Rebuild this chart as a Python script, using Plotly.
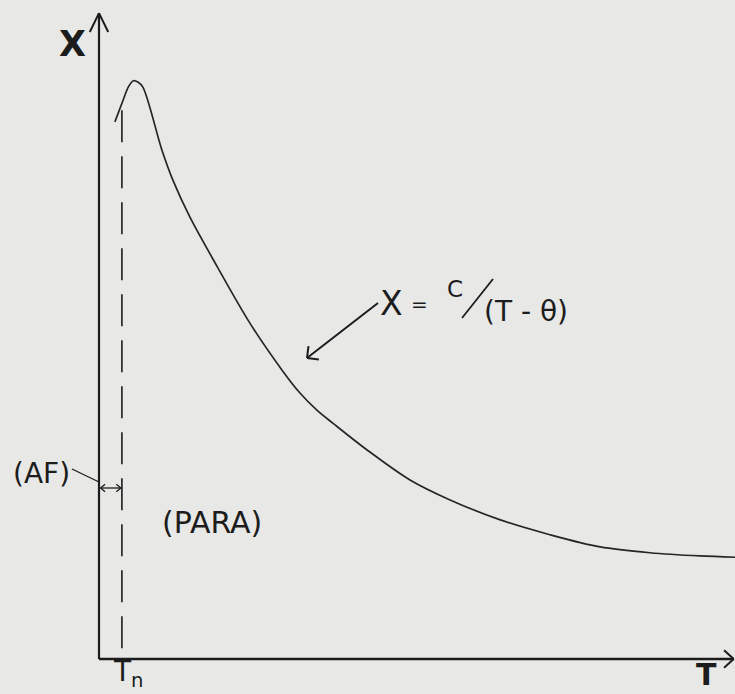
import math
import plotly.graph_objects as go

# Susceptibility of an antiferromagnet versus temperature (arbitrary units)
temperature = [2.5, 3.8, 4.6, 5.4, 6.1, 6.9, 9.9, 11.6, 14.3, 18.6, 23.7, 28.9,
               31.6, 34.3, 36.8, 42.1, 48.9, 55.2, 63.1, 70.9, 78.8, 86.6, 94.5, 100.0]
susceptibility = [83.4, 86.8, 88.8, 89.8, 89.6, 88.8, 79.0, 74.4, 68.6, 60.9, 52.2, 44.7,
                  41.3, 38.6, 36.6, 32.5, 27.8, 24.7, 21.6, 19.3, 17.4, 16.5, 16.0, 15.8]

neel_temperature = 3.6      # T_n
neel_line_top = 85.2        # top of the dashed T_n marker
axis_t_max = 99.8
axis_chi_max = 100.3

# Canvas geometry: axis origin and scale in pixels
W, H = 735, 694
X0PX, Y0PX = 99, 659
SX, SY = 6.36, 6.44
x_range = [-X0PX / SX, (W - X0PX) / SX]
y_range = [(Y0PX - H) / SY, Y0PX / SY]

INK = "#1c1c1c"
PAPER = "#e8e8e7"
FONT = "DejaVu Sans"


def d2p(t, c):
    """data -> pixel"""
    return X0PX + t * SX, Y0PX - c * SY


def pp(xp, yp):
    """pixel -> paper"""
    return xp / W, 1 - yp / H


shapes = []


def seg(p1, p2, width=1.6):
    a = pp(*p1)
    b = pp(*p2)
    shapes.append(dict(type="line", xref="paper", yref="paper",
                       x0=a[0], y0=a[1], x1=b[0], y1=b[1],
                       line=dict(color=INK, width=width)))


def chevron(tip, frm, length, half_angle, width=1.6):
    dx, dy = tip[0] - frm[0], tip[1] - frm[1]
    n = math.hypot(dx, dy)
    vx, vy = -dx / n, -dy / n
    for s in (1, -1):
        a = math.radians(half_angle) * s
        rx = vx * math.cos(a) - vy * math.sin(a)
        ry = vx * math.sin(a) + vy * math.cos(a)
        seg(tip, (tip[0] + rx * length, tip[1] + ry * length), width)


fig = go.Figure()

# Axes
origin = d2p(0, 0)
y_tip = d2p(0, axis_chi_max)
x_tip = d2p(axis_t_max, 0)
seg(origin, y_tip, 2.2)
seg(origin, x_tip, 2.4)
chevron(y_tip, origin, 21, 26, 2.0)
chevron(x_tip, origin, 13, 42, 2.0)

# Dashed Neel temperature marker
fig.add_trace(go.Scatter(
    x=[neel_temperature, neel_temperature], y=[neel_line_top, 0],
    mode="lines", line=dict(color=INK, width=1.6, dash="32px,14px"),
    hoverinfo="skip", showlegend=False))

# Susceptibility curve
fig.add_trace(go.Scatter(
    x=temperature, y=susceptibility, mode="lines",
    line=dict(color="#262626", width=1.7, shape="spline", smoothing=0.9),
    hoverinfo="skip", showlegend=False))

# (AF) region: leader and double-headed arrow between axis and T_n
af_y = 488
left = (X0PX + 1.5, af_y)
right = (d2p(neel_temperature, 0)[0] - 1, af_y)
seg((72, 469), (X0PX, 482), 1.3)
seg(left, right, 1.3)
chevron(left, right, 6, 40, 1.3)
chevron(right, left, 6, 40, 1.3)

# Curie-Weiss pointer
eq_start, eq_tip = (378, 303), (307, 358)
seg(eq_start, eq_tip, 2.0)
chevron(eq_tip, eq_start, 12, 45, 2.0)
# fraction slash
seg((462, 318), (493, 279), 1.8)

annotations = []


def label(text, xpx, ypx, size, xanchor="center", yanchor="middle", weight="normal"):
    x, y = pp(xpx, ypx)
    annotations.append(dict(
        text=text, x=x, y=y, xref="paper", yref="paper",
        xanchor=xanchor, yanchor=yanchor, showarrow=False,
        font=dict(family=FONT, size=size, color=INK, weight=weight)))


label("X", 72, 44, 35, weight="bold")
label("(AF)", 41, 473, 28)
label("(PARA)", 160, 522, 30, xanchor="left")
label("X", 391, 303, 33)
label("=", 419, 304, 20)
label("C", 455, 289, 23)
label("(T - θ)", 482, 311, 28, xanchor="left")
label("T<sub>n</sub>", 111, 694, 28, xanchor="left", yanchor="bottom")
label("T", 706, 694, 30, yanchor="bottom", weight="bold")

fig.update_layout(
    width=W, height=H,
    margin=dict(l=0, r=0, t=0, b=0),
    paper_bgcolor=PAPER, plot_bgcolor=PAPER,
    xaxis=dict(range=x_range, visible=False, fixedrange=True),
    yaxis=dict(range=y_range, visible=False, fixedrange=True),
    shapes=shapes, annotations=annotations,
    showlegend=False,
)

fig.write_html("out.html")
